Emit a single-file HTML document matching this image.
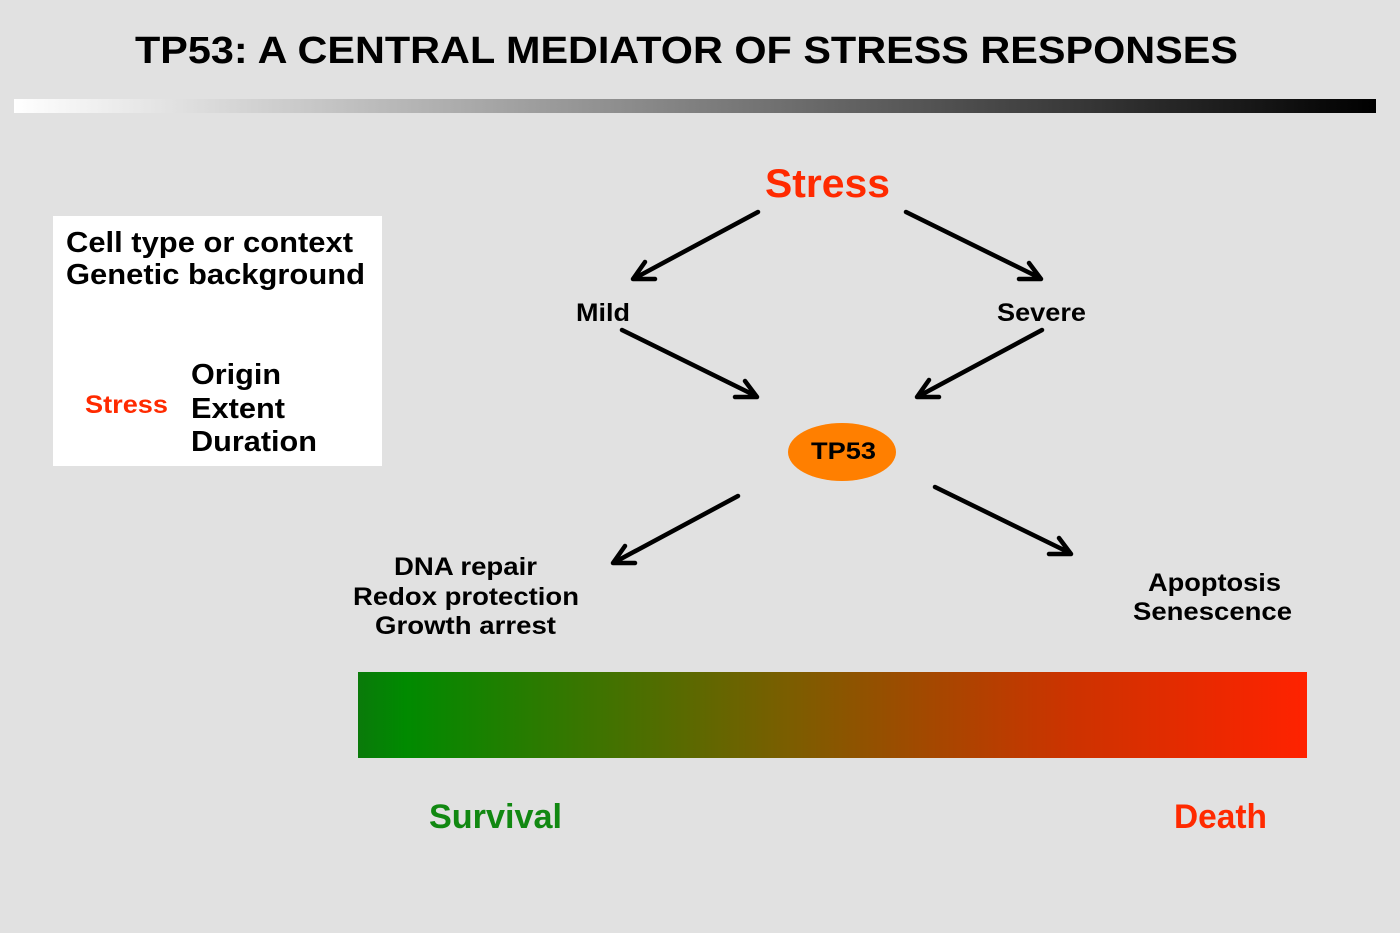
<!DOCTYPE html>
<html><head><meta charset="utf-8"><style>
body{margin:0;width:1400px;height:933px;background:#e1e1e1;overflow:hidden;font-family:"Liberation Sans",sans-serif;}
</style></head><body>
<svg width="1400" height="933" xmlns="http://www.w3.org/2000/svg" style="position:absolute;left:0;top:0">
<defs>
<linearGradient id="g1" x1="0" x2="1"><stop offset="0" stop-color="#ffffff"/><stop offset="1" stop-color="#000000"/></linearGradient>
<linearGradient id="g2" x1="0" x2="1"><stop offset="0" stop-color="#0a7a0a"/><stop offset="0.05" stop-color="#008a00"/><stop offset="0.45" stop-color="#7a5e00"/><stop offset="0.75" stop-color="#cc3300"/><stop offset="1" stop-color="#ff2200"/></linearGradient>
</defs>
<g lengthAdjust="spacingAndGlyphs">
<text x="135" y="63" font-size="38" font-weight="bold" fill="#000" textLength="1103" lengthAdjust="spacingAndGlyphs">TP53: A CENTRAL MEDIATOR OF STRESS RESPONSES</text>
</g>
<rect x="14" y="99" width="1362" height="14" fill="url(#g1)"/>
<rect x="53" y="216" width="329" height="250" fill="#fff"/>
<g font-weight="bold" fill="#000" font-size="29">
<text x="66" y="252" textLength="287" lengthAdjust="spacingAndGlyphs">Cell type or context</text>
<text x="66" y="284" textLength="299" lengthAdjust="spacingAndGlyphs">Genetic background</text>
<text x="191" y="384" textLength="90" lengthAdjust="spacingAndGlyphs">Origin</text>
<text x="191" y="418" textLength="94" lengthAdjust="spacingAndGlyphs">Extent</text>
<text x="191" y="451" textLength="126" lengthAdjust="spacingAndGlyphs">Duration</text>
</g>
<text x="85" y="413" font-size="25" font-weight="bold" fill="#ff2a00" textLength="83" lengthAdjust="spacingAndGlyphs">Stress</text>
<text x="765" y="197" font-size="40" font-weight="bold" fill="#ff2a00" textLength="125" lengthAdjust="spacingAndGlyphs">Stress</text>
<g font-weight="bold" fill="#000" font-size="25">
<text x="576" y="321" textLength="54" lengthAdjust="spacingAndGlyphs">Mild</text>
<text x="997" y="321" textLength="89" lengthAdjust="spacingAndGlyphs">Severe</text>
<text x="394" y="575" textLength="143" lengthAdjust="spacingAndGlyphs">DNA repair</text>
<text x="353" y="605" textLength="226" lengthAdjust="spacingAndGlyphs">Redox protection</text>
<text x="375" y="634" textLength="181" lengthAdjust="spacingAndGlyphs">Growth arrest</text>
<text x="1148" y="591" textLength="133" lengthAdjust="spacingAndGlyphs">Apoptosis</text>
<text x="1133" y="620" textLength="159" lengthAdjust="spacingAndGlyphs">Senescence</text>
</g>
<ellipse cx="842" cy="452" rx="54" ry="29" fill="#ff7f00"/>
<text x="811" y="459" font-size="24" font-weight="bold" textLength="65" lengthAdjust="spacingAndGlyphs">TP53</text>
<g stroke="#000" stroke-width="4.5" fill="none" stroke-linecap="round" stroke-linejoin="round">
<path d="M758 212L635 278M645 262L633 279L655 279"/>
<path d="M906 212L1040 278M1019 279L1041 279L1029 263"/>
<path d="M622 330L756 396M735 397L757 397L745 381"/>
<path d="M1042 330L919 396M929 380L917 397L939 397"/>
<path d="M738 496L615 562M625 546L613 563L635 563"/>
<path d="M935 487L1070 553M1049 554L1071 554L1059 538"/>
</g>
<rect x="358" y="672" width="949" height="86" fill="url(#g2)"/>
<text x="429" y="828" font-size="34" font-weight="bold" fill="#118811" textLength="133" lengthAdjust="spacingAndGlyphs">Survival</text>
<text x="1174" y="828" font-size="34" font-weight="bold" fill="#ff2a00" textLength="93" lengthAdjust="spacingAndGlyphs">Death</text>
</svg>
</body></html>
